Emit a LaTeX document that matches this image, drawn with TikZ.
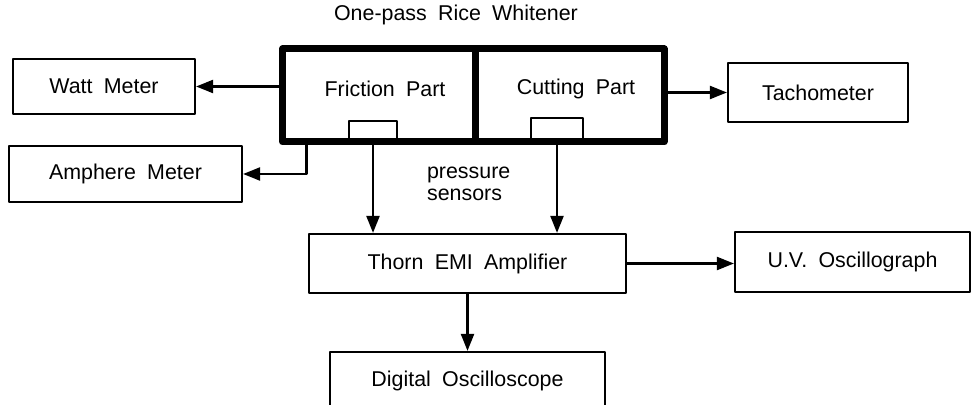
\documentclass[tikz,border=0pt]{standalone}
\usepackage{fontspec}
\setmainfont{Liberation Sans}[WordSpace=1.9]
\usepackage{tikz}
\usetikzlibrary{arrows.meta,calc}

\begin{document}
\begin{tikzpicture}[x=0.5pt,y=-0.5pt,>={Triangle[length=8.5pt,width=6.5pt]},line join=round,
  font=\fontsize{10.7}{11}\selectfont,
  box/.style={draw,line width=1.1pt,inner sep=0pt},
  part/.style={draw,line width=3.5pt,inner sep=0pt,minimum height=46.5pt},
  sens/.style={draw,line width=1.1pt,inner sep=0pt},
  con/.style={->,line width=1.1pt}]
  \clip (0,0) rectangle (973,405);
  \node (title) at (456,15) {One-pass Rice Whitener};
  \node[sens,minimum width=24pt,minimum height=10.5pt] (sensF) at (373,131.5) {};
  \node[sens,minimum width=26pt,minimum height=12pt] (sensC) at (557,130) {};
  \node[part,minimum width=96.5pt] (fric) at (379,95.5) {};
  \node[part,minimum width=94.25pt] (cut) at (569.75,95.5) {};
  \node (fricT) at (385,89) {Friction Part};
  \node (cutT) at (576,89) {Cutting Part};
  \node[box,minimum width=91pt,minimum height=27.5pt] (watt) at (104,86.5) {Watt Meter};
  \node[box,minimum width=116.5pt,minimum height=28pt] (amph) at (125.5,174) {Amphere Meter};
  \node[box,minimum width=90pt,minimum height=29.5pt] (tacho) at (818,92.5) {Tachometer};
  \node[box,minimum width=158.5pt,minimum height=29.5pt] (ampl) at (467.5,263.5) {Thorn EMI Amplifier};
  \node[box,minimum width=117.5pt,minimum height=30pt] (uv) at (852.5,262) {U.V. Oscillograph};
  \node[box,minimum width=137.5pt,minimum height=29pt] (dig) at (467.5,381) {Digital Oscilloscope};
  \node[anchor=west,align=left] (press) at (420,184) {pressure\\sensors};
  \draw[con] (fric.west |- watt.east) -- (watt.east);
  \draw[con] ($(fric.south west)+(27.5,0)$) |- (amph.east);
  \draw[con] (cut.east |- tacho.west) -- (tacho.west);
  \draw[con] (sensF.south) -- (sensF.south |- ampl.north);
  \draw[con] (sensC.south) -- (sensC.south |- ampl.north);
  \draw[con] (ampl.east) -- (ampl.east -| uv.west);
  \draw[con] (ampl.south) -- (dig.north);
\end{tikzpicture}
\end{document}
